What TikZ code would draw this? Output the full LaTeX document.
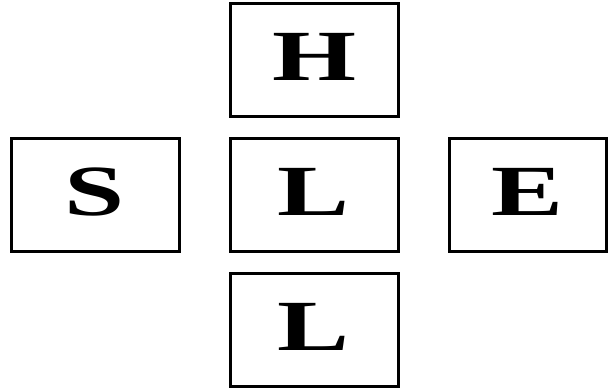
\documentclass[tikz,border=0pt]{standalone}
\usepackage{fontspec}
\setmainfont{Liberation Serif}
\usetikzlibrary{positioning}
\tikzset{
  letterbox/.style={
    draw=black,
    line width=3pt,
    minimum width=168pt,
    minimum height=113pt,
    text depth=6pt,
    inner sep=0pt,
    font=\fontsize{72}{72}\selectfont\bfseries
  }
}
\newcommand{\wideletter}[1]{\scalebox{1.5}[1]{#1}}

\begin{document}
\begin{tikzpicture}[x=1pt,y=-1pt,node distance=19pt and 48pt]
  \useasboundingbox (0,0) rectangle (609,390);
  \node[letterbox] (centre) at (314,195) {\wideletter{L}};
  \node[letterbox, above=of centre] (top) {\wideletter{H}};
  \node[letterbox, below=of centre] (bottom) {\wideletter{L}};
  \node[letterbox, left=of centre] (left) {\wideletter{S}};
  \node[letterbox, right=of centre, minimum width=157pt] (right) {\wideletter{E}};
\end{tikzpicture}
\end{document}
